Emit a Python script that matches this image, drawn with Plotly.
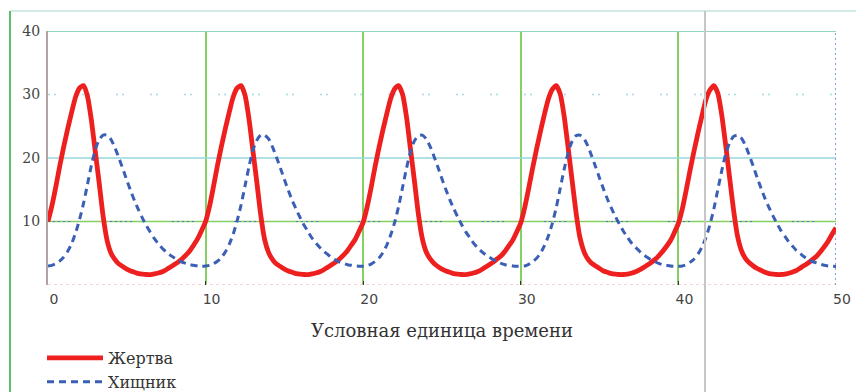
import plotly.graph_objects as go

# ---------------- data ----------------
t_start = 0.0
t_step = 0.25

prey = [
    10.0, 12.5, 15.5, 18.8, 21.8, 24.6, 27.2, 29.6, 31.0, 31.4,
    29.8, 26.0, 21.0, 16.0, 10.8, 7.0, 5.0, 4.0, 3.3, 2.9,
    2.5, 2.2, 2.0, 1.8, 1.7, 1.65, 1.65, 1.75, 1.9, 2.1,
    2.4, 2.8, 3.2, 3.6, 4.1, 4.7, 5.4, 6.3, 7.3, 8.6,
    10.0, 12.4, 15.5, 18.8, 21.8, 24.6, 27.2, 29.6, 31.0, 31.4,
    29.9, 26.2, 21.2, 16.2, 11.0, 7.1, 5.1, 4.0, 3.3, 2.9,
    2.5, 2.2, 2.0, 1.8, 1.7, 1.65, 1.65, 1.75, 1.9, 2.1,
    2.4, 2.8, 3.2, 3.6, 4.1, 4.7, 5.4, 6.3, 7.2, 8.5,
    9.9, 12.3, 15.3, 18.6, 21.6, 24.4, 27.0, 29.4, 30.9, 31.4,
    30.0, 26.4, 21.4, 16.4, 11.2, 7.3, 5.2, 4.1, 3.4, 2.9,
    2.5, 2.2, 2.0, 1.8, 1.7, 1.65, 1.65, 1.75, 1.9, 2.1,
    2.4, 2.8, 3.2, 3.6, 4.1, 4.6, 5.3, 6.2, 7.1, 8.4,
    9.8, 12.2, 15.2, 18.4, 21.4, 24.2, 26.9, 29.3, 30.8, 31.4,
    30.1, 26.6, 21.7, 16.6, 11.5, 7.5, 5.3, 4.1, 3.4, 3.0,
    2.6, 2.2, 2.0, 1.8, 1.7, 1.65, 1.65, 1.7, 1.85, 2.05,
    2.35, 2.7, 3.1, 3.5, 4.0, 4.6, 5.3, 6.1, 7.0, 8.3,
    9.7, 12.0, 15.0, 18.2, 21.2, 24.0, 26.7, 29.2, 30.7, 31.4,
    30.2, 26.8, 22.0, 16.9, 11.8, 7.7, 5.4, 4.2, 3.5, 3.0,
    2.6, 2.3, 2.0, 1.8, 1.7, 1.65, 1.65, 1.7, 1.85, 2.05,
    2.3, 2.7, 3.1, 3.5, 4.0, 4.5, 5.2, 6.0, 6.9, 8.0,
    9.0,
]

predator = [
    3.0, 3.1, 3.4, 3.8, 4.4, 5.3, 6.5, 8.2, 10.3, 12.8,
    15.8, 18.8, 21.3, 22.9, 23.6, 23.6, 22.9, 21.6, 20.0, 18.3,
    16.5, 14.8, 13.2, 11.8, 10.5, 9.3, 8.3, 7.3, 6.5, 5.8,
    5.2, 4.7, 4.3, 3.9, 3.6, 3.4, 3.2, 3.1, 3.0, 2.95,
    3.0, 3.1, 3.35, 3.75, 4.3, 5.2, 6.4, 8.0, 10.1, 12.6,
    15.6, 18.6, 21.2, 22.8, 23.6, 23.6, 23.0, 21.7, 20.1, 18.4,
    16.6, 14.9, 13.3, 11.9, 10.6, 9.4, 8.4, 7.4, 6.6, 5.9,
    5.3, 4.8, 4.3, 3.9, 3.6, 3.4, 3.2, 3.1, 3.0, 2.95,
    2.95, 3.05, 3.3, 3.7, 4.25, 5.1, 6.3, 7.9, 9.9, 12.4,
    15.4, 18.4, 21.0, 22.7, 23.5, 23.6, 23.0, 21.8, 20.2, 18.5,
    16.7, 15.0, 13.4, 12.0, 10.7, 9.5, 8.4, 7.5, 6.6, 5.9,
    5.3, 4.8, 4.4, 4.0, 3.7, 3.4, 3.2, 3.1, 3.0, 2.95,
    2.95, 3.0, 3.25, 3.65, 4.2, 5.0, 6.2, 7.7, 9.7, 12.2,
    15.2, 18.2, 20.8, 22.6, 23.5, 23.6, 23.1, 21.9, 20.3, 18.6,
    16.8, 15.1, 13.5, 12.1, 10.8, 9.6, 8.5, 7.6, 6.7, 6.0,
    5.4, 4.8, 4.4, 4.0, 3.7, 3.4, 3.2, 3.1, 3.0, 2.95,
    2.95, 3.0, 3.2, 3.6, 4.1, 4.9, 6.0, 7.5, 9.5, 12.0,
    15.0, 18.0, 20.6, 22.4, 23.4, 23.6, 23.1, 22.0, 20.4, 18.7,
    16.9, 15.2, 13.6, 12.2, 10.9, 9.7, 8.6, 7.7, 6.8, 6.1,
    5.4, 4.9, 4.4, 4.0, 3.7, 3.5, 3.3, 3.1, 3.0, 2.95,
    2.9,
]

series_names = ["Жертва", "Хищник"]
x_ticks = [0, 10, 20, 30, 40, 50]
x_labels = ["0", "10", "20", "30", "40", "50"]
y_ticks = [10, 20, 30, 40]
y_labels = ["10", "20", "30", "40"]
x_title = "Условная единица времени"
page_text = "(б) = 3 (рисунок 1.11)."

# ---------------- layout geometry ----------------
W, H = 856, 392
ML, MR, MT, MB = 48, 20, 31, 107
PW, PH = W - ML - MR, H - MT - MB


def px_x(p):
    return (p - ML) / PW


def px_y(p):
    return (H - MB - p) / PH


fig = go.Figure()

fig.add_trace(go.Scatter(
    x0=t_start, dx=t_step, y=prey, mode="lines", name=series_names[0],
    legendgroup="a",
    line=dict(color="#ee1f1f", width=4.8, shape="spline", smoothing=0.6),
))
fig.add_trace(go.Scatter(
    x0=t_start, dx=t_step, y=predator, mode="lines", name=series_names[1],
    legendgroup="b",
    line=dict(color="#3a5fb5", width=3, dash="7px,5px", shape="spline", smoothing=0.6),
))

shapes = []
# horizontal reference lines (Mathcad-style, each its own colour)
shapes.append(dict(type="line", xref="x", yref="y", x0=0, x1=50, y0=0, y1=0,
                   line=dict(color="#f4c4c4", width=1.5, dash="3px,3px"), layer="between"))
shapes.append(dict(type="line", xref="x", yref="y", x0=0, x1=50, y0=y_ticks[0], y1=y_ticks[0],
                   line=dict(color="#86cf62", width=1.6), layer="between"))
shapes.append(dict(type="line", xref="x", yref="y", x0=0, x1=50, y0=y_ticks[0], y1=y_ticks[0],
                   line=dict(color="#5577c4", width=1.2,
                             dash="2px,3px,2px,3px,2px,3px,2px,3px,2px,40px"), layer="between"))
shapes.append(dict(type="line", xref="x", yref="y", x0=0, x1=50, y0=y_ticks[1], y1=y_ticks[1],
                   line=dict(color="#98d6df", width=1.6), layer="between"))
shapes.append(dict(type="line", xref="x", yref="y", x0=0, x1=50, y0=y_ticks[2], y1=y_ticks[2],
                   line=dict(color="#a9dbe4", width=1.5, dash="2px,4px,2px,26px"), layer="between"))
shapes.append(dict(type="line", xref="x", yref="y", x0=0, x1=50, y0=y_ticks[3], y1=y_ticks[3],
                   line=dict(color="#92d3c4", width=1.8), layer="between"))
shapes.append(dict(type="line", xref="x", yref="y", x0=50, x1=50, y0=0, y1=40,
                   line=dict(color="#4a6fc0", width=1.3, dash="2px,3px"), layer="between"))

# page frame and scan artefacts
shapes.append(dict(type="line", xref="paper", yref="paper",
                   x0=px_x(10), x1=px_x(W), y0=px_y(11), y1=px_y(11),
                   line=dict(color="#d3ebe6", width=2)))
shapes.append(dict(type="line", xref="paper", yref="paper",
                   x0=px_x(10), x1=px_x(10), y0=px_y(11), y1=px_y(H),
                   line=dict(color="#5cc06a", width=2)))
shapes.append(dict(type="line", xref="paper", yref="paper",
                   x0=px_x(705), x1=px_x(705), y0=px_y(11), y1=px_y(H),
                   line=dict(color="#c6c6c6", width=2)))

fig.update_layout(
    width=W, height=H,
    margin=dict(l=ML, r=MR, t=MT, b=MB, pad=0, autoexpand=False),
    paper_bgcolor="white", plot_bgcolor="white",
    shapes=shapes,
    showlegend=True,
    legend=dict(
        xref="paper", yref="container",
        x=px_x(42), y=(H - 341) / H, xanchor="left", yanchor="top",
        orientation="v", bgcolor="rgba(0,0,0,0)", borderwidth=0,
        font=dict(family="DejaVu Serif", size=16, color="#333333"),
        tracegroupgap=0, itemwidth=56,
    ),
    annotations=[dict(
        text=page_text, xref="paper", yref="paper",
        x=px_x(446), y=px_y(1), xanchor="left", yanchor="bottom",
        showarrow=False, font=dict(family="Liberation Serif", size=30, color="#222222"),
    )],
)

fig.update_xaxes(
    range=[0, 50], tickmode="array", tickvals=x_ticks, ticktext=x_labels,
    automargin=False,
    showgrid=True, gridcolor="#86cf62", gridwidth=1.6,
    zeroline=False, showline=False,
    ticks="inside", ticklen=4, tickcolor="#333333", tickwidth=1,
    ticklabelshift=6, ticklabelstandoff=4,
    tickfont=dict(family="DejaVu Sans", size=14, color="#444444"),
    title=dict(text=x_title, standoff=19,
               font=dict(family="DejaVu Serif", size=18, color="#333333")),
)
fig.update_yaxes(
    range=[0, 40], tickmode="array", tickvals=y_ticks, ticktext=y_labels,
    automargin=False,
    showgrid=False, zeroline=False,
    showline=True, linecolor="#b5a3a3", linewidth=2,
    ticks="", ticklabelstandoff=3,
    tickfont=dict(family="DejaVu Serif", size=14, color="#444444"),
)

fig.write_html("out.html", config={"displayModeBar": False},
               post_script="document.body.style.margin='0';")
